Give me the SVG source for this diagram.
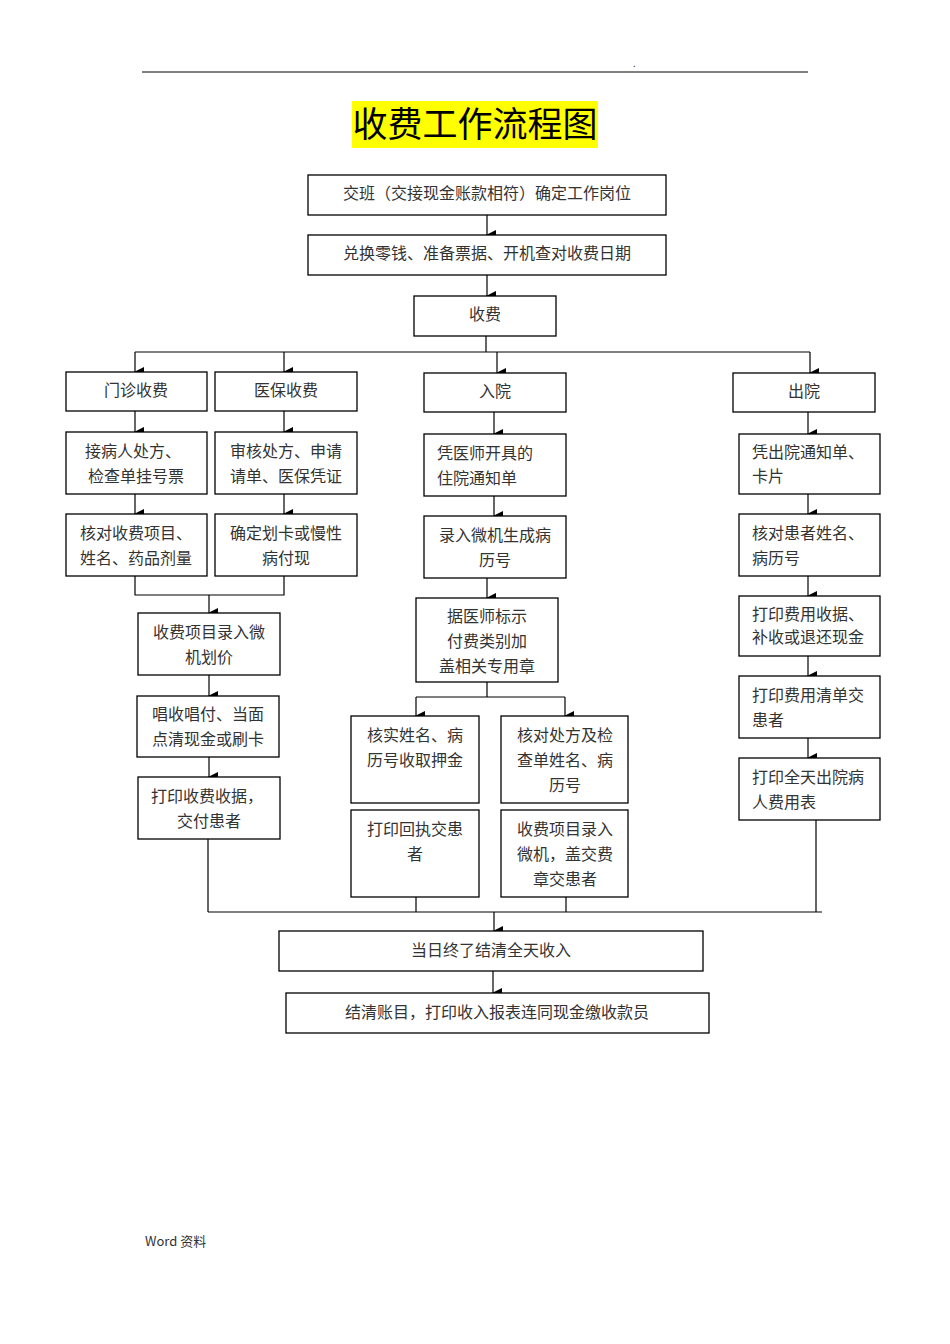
<svg xmlns="http://www.w3.org/2000/svg" width="950" height="1344" viewBox="0 0 950 1344">
<defs>
<marker id="ah" markerWidth="10" markerHeight="10" refX="5" refY="9" orient="auto" markerUnits="userSpaceOnUse"><path d="M0,0 L10,0 L5,10 Z" fill="#000"/></marker>
<style>
rect.b{fill:#fff;stroke:#000;stroke-width:1.3}
text{font-family:"Noto Sans CJK SC","Noto Sans",sans-serif;font-size:16px;fill:#333}
.c{text-anchor:middle}
.l{fill:none;stroke:#000;stroke-width:1.2}
.a{fill:none;stroke:#000;stroke-width:1.2;marker-end:url(#ah)}
</style>
</defs>
<rect width="950" height="1344" fill="#fff"/>
<line x1="142" y1="72" x2="808" y2="72" stroke="#000" stroke-width="1"/>
<text x="633" y="67" style="font-size:9px">.</text>
<g id="title"><rect x="352" y="101" width="246" height="47" fill="#ffff00"/><text x="475" y="137" class="c" style="font-size:35px;fill:#000">收费工作流程图</text></g>
<g id="connectors">
<path class="a" d="M487,215V235"/>
<path class="a" d="M487,275V296"/>
<path class="l" d="M486,336V352M135,352H810"/>
<path class="a" d="M135,352V372"/><path class="a" d="M284,352V372"/><path class="a" d="M497,352V373"/><path class="a" d="M810,352V373"/>
<path class="a" d="M135,411V432"/><path class="a" d="M284,411V432"/><path class="a" d="M494,412V434"/><path class="a" d="M808,412V434"/>
<path class="a" d="M135,494V514"/><path class="a" d="M284,494V514"/><path class="a" d="M494,496V516"/><path class="a" d="M808,494V514"/>
<path class="l" d="M135,576V595H284V576"/><path class="a" d="M209,595V613"/>
<path class="a" d="M209,675V696"/><path class="a" d="M209,757V777"/>
<path class="a" d="M487,578V598"/>
<path class="l" d="M487,682V697M416,697H565"/><path class="a" d="M416,697V716"/><path class="a" d="M565,697V716"/>
<path class="a" d="M808,576V596"/><path class="a" d="M808,656V676"/><path class="a" d="M808,738V758"/>
<path class="l" d="M208,839V912M416,897V912M566,897V912M816,820V912M208,912H822"/>
<path class="a" d="M494,912V931"/>
<path class="a" d="M493,971V993"/>
</g>
<g id="n1"><rect class="b" x="308" y="175" width="358" height="40"/><text x="487" y="199" class="c">交班（交接现金账款相符）确定工作岗位</text></g>
<g id="n2"><rect class="b" x="308" y="235" width="358" height="40"/><text x="487" y="259" class="c">兑换零钱、准备票据、开机查对收费日期</text></g>
<g id="n3"><rect class="b" x="414" y="296" width="142" height="40"/><text x="485" y="320" class="c">收费</text></g>
<g id="n4"><rect class="b" x="66" y="372" width="141" height="39"/><text x="136" y="396" class="c">门诊收费</text></g>
<g id="n5"><rect class="b" x="215" y="372" width="142" height="39"/><text x="286" y="396" class="c">医保收费</text></g>
<g id="n6"><rect class="b" x="424" y="373" width="142" height="39"/><text x="495" y="397" class="c">入院</text></g>
<g id="n7"><rect class="b" x="733" y="373" width="142" height="39"/><text x="804" y="397" class="c">出院</text></g>
<g id="n8"><rect class="b" x="66" y="432" width="141" height="62"/><text x="133" y="457" class="c">接病人处方、</text><text x="136" y="482" class="c">检查单挂号票</text></g>
<g id="n9"><rect class="b" x="215" y="432" width="142" height="62"/><text x="286" y="457" class="c">审核处方、申请</text><text x="286" y="482" class="c">请单、医保凭证</text></g>
<g id="n10"><rect class="b" x="424" y="434" width="142" height="62"/><text x="437" y="459">凭医师开具的</text><text x="437" y="484">住院通知单</text></g>
<g id="n11"><rect class="b" x="739" y="434" width="141" height="60"/><text x="752" y="458">凭出院通知单、</text><text x="752" y="482">卡片</text></g>
<g id="n12"><rect class="b" x="66" y="514" width="141" height="62"/><text x="136" y="539" class="c">核对收费项目、</text><text x="136" y="564" class="c">姓名、药品剂量</text></g>
<g id="n13"><rect class="b" x="215" y="514" width="142" height="62"/><text x="286" y="539" class="c">确定划卡或慢性</text><text x="286" y="564" class="c">病付现</text></g>
<g id="n14"><rect class="b" x="424" y="516" width="142" height="62"/><text x="495" y="541" class="c">录入微机生成病</text><text x="495" y="566" class="c">历号</text></g>
<g id="n15"><rect class="b" x="739" y="514" width="141" height="62"/><text x="752" y="539">核对患者姓名、</text><text x="752" y="564">病历号</text></g>
<g id="n16"><rect class="b" x="138" y="613" width="142" height="62"/><text x="209" y="638" class="c">收费项目录入微</text><text x="209" y="663" class="c">机划价</text></g>
<g id="n17"><rect class="b" x="137" y="696" width="142" height="61"/><text x="208" y="720" class="c">唱收唱付、当面</text><text x="208" y="745" class="c">点清现金或刷卡</text></g>
<g id="n18"><rect class="b" x="138" y="777" width="142" height="62"/><text x="207" y="802" class="c">打印收费收据，</text><text x="209" y="827" class="c">交付患者</text></g>
<g id="n19"><rect class="b" x="416" y="598" width="142" height="84"/><text x="487" y="622" class="c">据医师标示</text><text x="487" y="647" class="c">付费类别加</text><text x="487" y="672" class="c">盖相关专用章</text></g>
<g id="n20"><rect class="b" x="351" y="716" width="128" height="87"/><text x="415" y="741" class="c">核实姓名、病</text><text x="415" y="766" class="c">历号收取押金</text></g>
<g id="n21"><rect class="b" x="501" y="716" width="127" height="87"/><text x="565" y="741" class="c">核对处方及检</text><text x="565" y="766" class="c">查单姓名、病</text><text x="565" y="791" class="c">历号</text></g>
<g id="n22"><rect class="b" x="351" y="810" width="128" height="87"/><text x="415" y="835" class="c">打印回执交患</text><text x="415" y="860" class="c">者</text></g>
<g id="n23"><rect class="b" x="501" y="810" width="127" height="87"/><text x="565" y="835" class="c">收费项目录入</text><text x="565" y="860" class="c">微机，盖交费</text><text x="565" y="885" class="c">章交患者</text></g>
<g id="n24"><rect class="b" x="739" y="596" width="141" height="60"/><text x="752" y="620">打印费用收据、</text><text x="752" y="643">补收或退还现金</text></g>
<g id="n25"><rect class="b" x="739" y="676" width="141" height="62"/><text x="752" y="701">打印费用清单交</text><text x="752" y="726">患者</text></g>
<g id="n26"><rect class="b" x="739" y="758" width="141" height="62"/><text x="752" y="783">打印全天出院病</text><text x="752" y="808">人费用表</text></g>
<g id="n27"><rect class="b" x="279" y="931" width="424" height="40"/><text x="491" y="956" class="c">当日终了结清全天收入</text></g>
<g id="n28"><rect class="b" x="286" y="993" width="423" height="40"/><text x="497" y="1018" class="c">结清账目，打印收入报表连同现金缴收款员</text></g>
<text x="145" y="1246" style="font-size:13px">Word 资料</text>
</svg>
